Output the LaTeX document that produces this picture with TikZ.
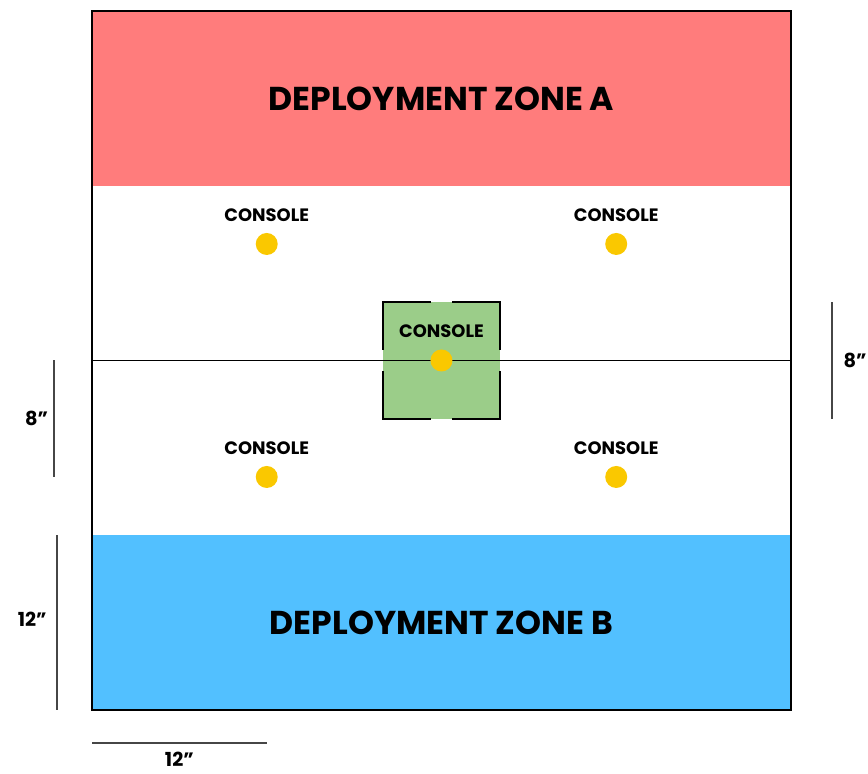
\documentclass[tikz,border=0pt]{standalone}
\usepackage{fontspec}
\setmainfont{Poppins}
\usetikzlibrary{positioning}

\definecolor{zonered}{RGB}{255,124,124}
\definecolor{zoneblue}{RGB}{82,192,255}
\definecolor{centergreen}{RGB}{155,205,137}
\definecolor{consoleyellow}{RGB}{250,200,0}
\definecolor{rulergray}{RGB}{70,70,70}

\tikzset{
  edge/.style={draw=black, line width=1.1pt},
  dotmark/.style={circle, fill=consoleyellow, inner sep=0pt, minimum size=0.44cm},
  tag/.style={inner sep=0pt, font=\bfseries\fontsize{10.2}{10.2}\selectfont},
  zonetitle/.style={font=\bfseries\fontsize{18.8}{18.8}\selectfont},
  ruler/.style={draw=rulergray, line width=1.1pt},
  measure/.style={font=\bfseries\fontsize{11}{11}\selectfont},
}

\begin{document}
\begin{tikzpicture}[x=0.29125cm, y=-0.29125cm]
  \useasboundingbox (-6.318,-0.755) rectangle (53.29,52.39);

  % deployment zones
  \fill[zonered] (0,0) rectangle (48,12);
  \fill[zoneblue] (0,36) rectangle (48,48);
  \node[zonetitle] (zonea) at (24,6) {DEPLOYMENT ZONE A};
  \node[zonetitle] (zoneb) at (24,42) {DEPLOYMENT ZONE B};

  % centre objective
  \fill[centergreen] (20,20) rectangle (28,28);
  \draw[line width=0.9pt] (0,24) -- (48,24);
  \foreach \cx/\cy/\dx/\dy in {20/20/1/1, 28/20/-1/1, 20/28/1/-1, 28/28/-1/-1}
    \draw[edge] ({\cx+3.25*\dx},\cy) -- (\cx,\cy) -- (\cx,{\cy+3.25*\dy});

  \draw[edge] (0,0) rectangle (48,48);

  % consoles
  \foreach \name/\px/\py in {nw/12/16, ne/36/16, mid/24/24, sw/12/32, se/36/32} {
    \node[dotmark] (\name) at (\px,\py) {};
    \node[tag, above=0.22cm of \name] (\name-tag) {CONSOLE};
  }

  % scale bars
  \coordinate (l8a) at (-2.61,24);
  \coordinate (l8b) at (-2.61,32);
  \draw[ruler] (l8a) -- (l8b);
  \node[measure] (l8) at (-3.8,28) {8”};

  \coordinate (l12a) at (-2.4,36);
  \coordinate (l12b) at (-2.4,48);
  \draw[ruler] (l12a) -- (l12b);
  \node[measure] (l12) at (-4.1,41.8) {12”};

  \coordinate (r8a) at (50.8,20);
  \coordinate (r8b) at (50.8,28);
  \draw[ruler] (r8a) -- (r8b);
  \node[measure] (r8) at (52.4,24) {8”};

  \coordinate (b12a) at (0,50.27);
  \coordinate (b12b) at (12,50.27);
  \draw[ruler] (b12a) -- (b12b);
  \node[measure] (b12) at (6,51.4) {12”};
\end{tikzpicture}
\end{document}
